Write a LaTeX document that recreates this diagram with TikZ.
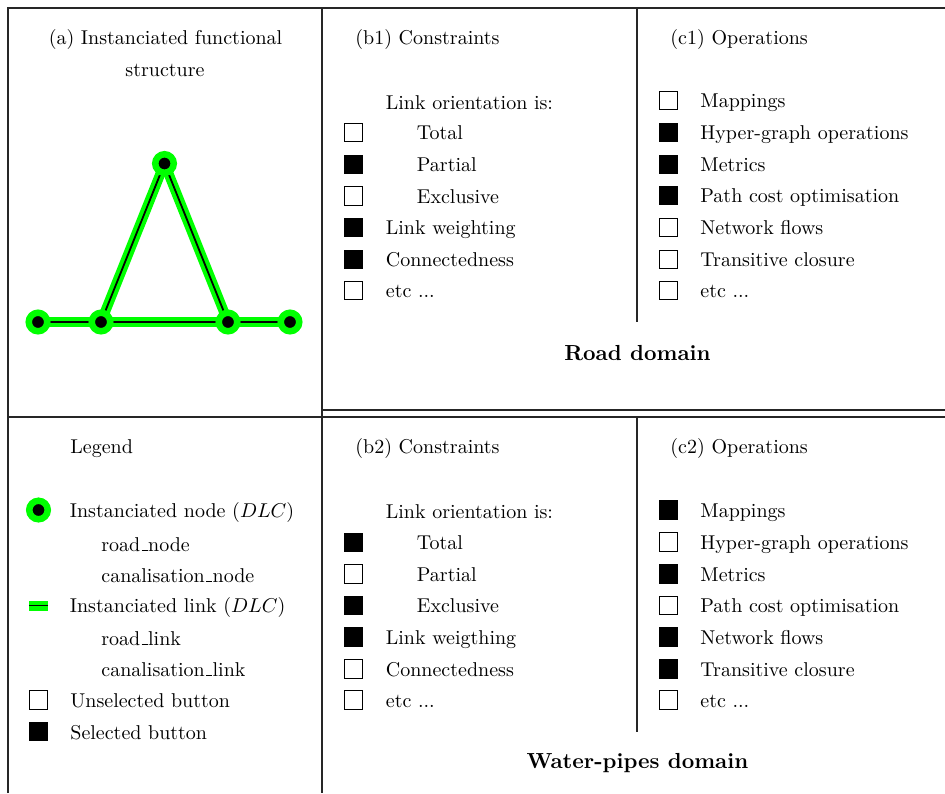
\documentclass[tikz,border=0pt]{standalone}
\usetikzlibrary{backgrounds}
\definecolor{dlcgreen}{RGB}{0,255,0}
\newcommand\etcitem{etc ...}
% short baseline rule, as in classic \_
\newcommand\uscore{\leavevmode\kern.06em\vbox{\hrule width .3em height .4pt}\kern.03em}
\begin{document}
\begin{tikzpicture}[x=0.5pt,y=-0.5pt,
  rule/.style={line width=0.8pt, black!85},
  lbl/.style={anchor=base west, inner sep=0pt, font=\fontsize{10}{12}\selectfont},
  title/.style={anchor=base, inner sep=0pt, font=\fontsize{10}{12}\selectfont},
  domainlbl/.style={anchor=base, inner sep=0pt, font=\fontsize{10.9}{13}\selectfont\bfseries},
  btnoff/.style={draw, fill=white, minimum size=9.2pt, inner sep=0pt, line width=0.5pt},
  btnon/.style={btnoff, fill=black},
  dlcnode/.style={circle, fill=black, draw=dlcgreen, line width=3.25pt, minimum size=9.25pt, inner sep=0pt},
  dlclink/.style={draw=dlcgreen, line width=5pt},
  dlccore/.style={draw=black, line width=0.9pt}]
\useasboundingbox (0,0) rectangle (945,793);

% table rules
\coordinate (tl) at (8,8);     \coordinate (tr) at (945,8);
\coordinate (bl) at (8,793);
\coordinate (mt) at (322,8);   \coordinate (mb) at (322,793);
\coordinate (hl) at (8,417);   \coordinate (hr) at (945,417);
\coordinate (dl) at (322,410); \coordinate (dr) at (945,410);
\coordinate (ct) at (637,8);   \coordinate (cm) at (637,322);
\coordinate (cu) at (637,417); \coordinate (cb) at (637,732);
\draw[rule] (bl) -- (tl) -- (tr);
\draw[rule] (mt) -- (mb);
\draw[rule] (hl) -- (hr);
\draw[rule] (dl) -- (dr);
\draw[rule] (ct) -- (cm);
\draw[rule] (cu) -- (cb);

% (a) functional structure
\node[title] (ta1) at (165.5,44) {(a) Instanciated functional};
\node[title] (ta2) at (165,76) {structure};
\node[dlcnode] (g1) at (38,322) {};
\node[dlcnode] (g2) at (101,322) {};
\node[dlcnode] (g3) at (228,322) {};
\node[dlcnode] (g4) at (290,322) {};
\node[dlcnode] (g5) at (164.5,163.5) {};
\begin{pgfonlayer}{background}
  \foreach \a/\b in {g1/g2,g2/g3,g3/g4,g2/g5,g5/g3} {
    \draw[dlclink] (\a.center) -- (\b.center);
    \draw[dlccore] (\a.center) -- (\b.center);
  }
\end{pgfonlayer}

% legend
\node[lbl] (lgt) at (70,453.5) {Legend};
\node[dlcnode] (lgn) at (38.5,510) {};
\node[lbl] (lgnt) at (69.5,517) {Instanciated node ($DLC$)};
\node[lbl] (lgn1) at (101,551) {road\uscore node};
\node[lbl] (lgn2) at (101,582) {canalisation\uscore node};
\coordinate (lgl1) at (29,605.5);
\coordinate (lgl2) at (48,605.5);
\draw[dlclink] (lgl1) -- (lgl2);
\draw[dlccore] (lgl1) -- (lgl2);
\node[lbl] (lglt) at (69.5,612) {Instanciated link ($DLC$)};
\node[lbl] (lgl3) at (101,645) {road\uscore link};
\node[lbl] (lgl4) at (101,676) {canalisation\uscore link};
\node[btnoff] (lgb1) at (38.5,700) {};
\node[lbl] (lgb1t) at (70,707.5) {Unselected button};
\node[btnon] (lgb2) at (38.5,731.5) {};
\node[lbl] (lgb2t) at (70,739) {Selected button};

% (b1) road constraints
\node[lbl] (tb1) at (355,44) {(b1) Constraints};
\node[lbl] (ob1) at (385.5,109) {Link orientation is:};
\foreach \y/\s/\x/\t [count=\i] in {
  132.7/btnoff/416.5/Total, 164.3/btnon/416.5/Partial, 196/btnoff/416.5/Exclusive,
  227.7/btnon/385.5/Link weighting, 259.3/btnon/385.5/Connectedness, 290.5/btnoff/385.5/\etcitem} {
  \node[\s] (bb1\i) at (353.5,\y) {};
  \node[lbl] (lb1\i) at (\x,\y+7) {\t};
}

% (c1) road operations
\node[lbl] (tc1) at (670,44) {(c1) Operations};
\foreach \y/\s/\t [count=\i] in {
  100.5/btnoff/Mappings, 132.3/btnon/Hyper-graph operations, 164.3/btnon/Metrics,
  195.7/btnon/Path cost optimisation, 227.7/btnoff/Network flows,
  259.3/btnoff/Transitive closure, 290.5/btnoff/\etcitem} {
  \node[\s] (bc1\i) at (668.5,\y) {};
  \node[lbl] (lc1\i) at (700,\y+7) {\t};
}
\node[domainlbl] (road) at (637.5,360.5) {Road domain};

% (b2) water-pipes constraints
\node[lbl] (tb2) at (355,453) {(b2) Constraints};
\node[lbl] (ob2) at (385.5,518) {Link orientation is:};
\foreach \y/\s/\x/\t [count=\i] in {
  542.5/btnon/416.5/Total, 574/btnoff/416.5/Partial, 605.5/btnon/416.5/Exclusive,
  637/btnon/385.5/Link weigthing, 669/btnoff/385.5/Connectedness, 700/btnoff/385.5/\etcitem} {
  \node[\s] (bb2\i) at (353.5,\y) {};
  \node[lbl] (lb2\i) at (\x,\y+7) {\t};
}

% (c2) water-pipes operations
\node[lbl] (tc2) at (670,453) {(c2) Operations};
\foreach \y/\s/\t [count=\i] in {
  510/btnon/Mappings, 542/btnoff/Hyper-graph operations, 574/btnon/Metrics,
  605.5/btnoff/Path cost optimisation, 637/btnon/Network flows,
  669/btnon/Transitive closure, 700/btnoff/\etcitem} {
  \node[\s] (bc2\i) at (668.5,\y) {};
  \node[lbl] (lc2\i) at (700,\y+7) {\t};
}
\node[domainlbl] (water) at (637.5,768.5) {Water-pipes domain};
\end{tikzpicture}
\end{document}
